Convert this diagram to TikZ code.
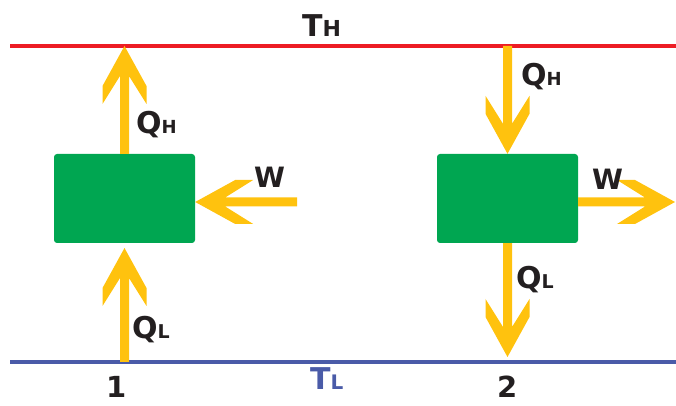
\documentclass[tikz,border=0pt]{standalone}
\usepackage{fontspec}
\setmainfont{DejaVu Sans}
\usetikzlibrary{calc}
\definecolor{hotred}{HTML}{ED1C24}
\definecolor{coldblue}{HTML}{4A5BA8}
\definecolor{boxgreen}{HTML}{00A651}
\definecolor{arryellow}{HTML}{FFC20E}
\definecolor{txtblack}{HTML}{231F20}
\newcommand\qlab[3]{{\fontsize{30}{30}\selectfont #1}{\fontsize{#3}{#3}\selectfont #2}}
\newcommand\fatarrow[2]{%
  \path let \p1=#1, \p2=#2 in \pgfextra{%
    \pgfmathsetmacro\arrang{atan2(\y2-\y1,\x2-\x1)}%
    \pgfmathsetmacro\arrlen{veclen(\x2-\x1,\y2-\y1)}%
    \xdef\arrang{\arrang}\xdef\arrlen{\arrlen}%
    \xdef\arrx{\x2}\xdef\arry{\y2}};
  \fill[arryellow, shift={(\arrx,\arry)}, rotate=\arrang]
    (0,0) -- (-40,22) -- (-58,22) -- (-30,4.5) -- (-\arrlen,4.5)
    -- (-\arrlen,-4.5) -- (-30,-4.5) -- (-58,-22) -- (-40,-22) -- cycle;
}
\begin{document}
\begin{tikzpicture}[x=1pt,y=1pt,
  engine/.style={fill=boxgreen, rounded corners=3pt, minimum width=141pt,
    minimum height=89pt, inner sep=0pt},
  lbl/.style={anchor=base west, inner sep=0pt, text=txtblack, font=\bfseries}]
\useasboundingbox (0,0) rectangle (676,406);
% reservoirs
\coordinate (rl) at (10,360); \coordinate (rr) at (676,360);
\coordinate (bl) at (10,44);  \coordinate (br) at (676,44);
\draw[hotred, line width=3.5pt] (rl) -- (rr);
\draw[coldblue, line width=3.5pt] (bl) -- (br);
% engines
\node[engine] (boxL) at (124.5,207.5) {};
\node[engine] (boxR) at (507.5,207.5) {};
% arrow end points
\coordinate (wL) at (297,204);
\coordinate (wR) at (675,204);
\coordinate (qlL) at (124.5,158);
\coordinate (qlR) at (507.5,49);
% arrows
\fatarrow{(boxL.north)}{(boxL.north |- rl)}
\fatarrow{(boxR.north |- rl)}{(boxR.north)}
\fatarrow{(wL)}{(boxL.east |- wL)}
\fatarrow{(boxR.east |- wR)}{(wR)}
\fatarrow{(boxL.south |- bl)}{(qlL)}
\fatarrow{(boxR.south)}{(qlR)}
% labels
\node[lbl] (tH) at (302,369) {\qlab{T}{H}{22}};
\node[lbl, text=coldblue] (tL) at (310,16) {\qlab{T}{L}{20}};
\node[lbl] (qHL) at (136,272) {\qlab{Q}{H}{18}};
\node[lbl] (qHR) at (521,320) {\qlab{Q}{H}{18}};
\node[lbl] (qLL) at (132,67) {\qlab{Q}{L}{19}};
\node[lbl] (qLR) at (516,117) {\qlab{Q}{L}{19}};
\node[lbl] (wlabL) at (254,218) {\fontsize{28}{28}\selectfont W};
\node[lbl] (wlabR) at (592,216) {\fontsize{28}{28}\selectfont W};
\node[lbl] (n1) at (106,8) {\fontsize{29}{29}\selectfont 1};
\node[lbl] (n2) at (497,8) {\fontsize{29}{29}\selectfont 2};
\end{tikzpicture}
\end{document}
